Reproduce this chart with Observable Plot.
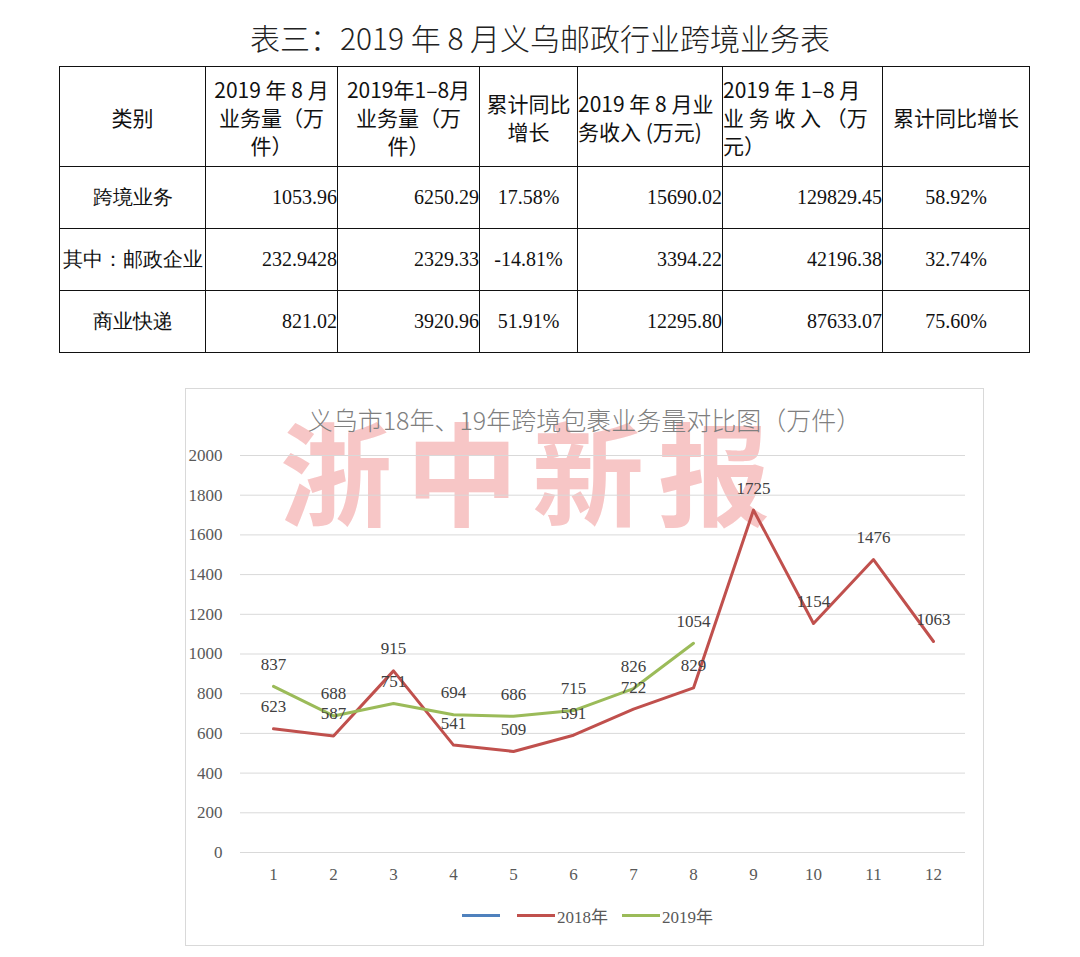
<!DOCTYPE html>
<html><head><meta charset="utf-8">
<script src="https://cdn.jsdelivr.net/npm/d3@7"></script>
<script src="https://cdn.jsdelivr.net/npm/@observablehq/plot@0.6"></script>
<style>
html,body{margin:0;padding:0;background:#fff;width:1080px;height:957px;overflow:hidden;position:relative;}
#title{position:absolute;left:0;width:1080px;top:17px;text-align:center;font-family:"Noto Sans CJK SC",sans-serif;font-size:30px;font-weight:300;color:#222;line-height:40px;}
#tbl{position:absolute;left:59px;top:66px;border-collapse:collapse;table-layout:fixed;width:970px;}
#tbl td{border:1px solid #111;padding:0;font-size:20px;color:#111;}
#tbl tr.h td{height:99px;font-family:"Noto Sans CJK SC",sans-serif;line-height:28px;font-size:21px;}
#tbl tr.d td{height:61px;font-family:"Liberation Serif",serif;}
#tbl td.cat{font-family:"Noto Sans CJK SC",sans-serif;text-align:center;}
#box{position:absolute;left:185px;top:388px;width:797px;height:556px;border:1px solid #d9d9d9;}
#wm{position:absolute;left:280px;top:413px;font-family:"Noto Sans CJK SC",sans-serif;font-weight:700;font-size:112px;line-height:1;color:#f7c6c6;letter-spacing:14px;white-space:nowrap;}
#ctitle{position:absolute;left:185px;width:799px;top:402px;text-align:center;font-family:"Noto Sans CJK SC",sans-serif;font-size:25px;font-weight:300;color:#7f7f7f;line-height:34px;}
#chart{position:absolute;left:185px;top:440px;}
#legend{position:absolute;left:462px;top:904px;display:flex;align-items:center;font-family:"Liberation Serif","Noto Sans CJK SC",serif;font-size:17px;color:#595959;height:22px;}
.sw{display:inline-block;width:38px;height:3px;}
</style></head>
<body>
<div id="title"></div>
<table id="tbl"></table>
<div id="box"></div>
<div id="wm"></div>
<div id="ctitle"></div>
<div id="chart"></div>
<div id="legend"></div>
<script>
// ---- Table data ----
const tableTitle = "表三：2019 年 8 月义乌邮政行业跨境业务表";
const headerLines = [
  ["类别"],
  ["2019 年 8 月","业务量（万","件）"],
  ["2019年1–8月","业务量（万","件）"],
  ["累计同比","增长"],
  ["2019 年 8 月业","务收入 (万元)"],
  ["2019 年 1–8 月","业 务 收 入 （万","元）"],
  ["累计同比增长"]
];
const headerAlign = ["center","center","center","center","left","left","center"];
const colWidths = [146,132,142,98,145,160,147];
const categories = ["跨境业务","其中：邮政企业","商业快递"];
const augVolume = ["1053.96","232.9428","821.02"];
const ytdVolume = ["6250.29","2329.33","3920.96"];
const volGrowth = ["17.58%","-14.81%","51.91%"];
const augRevenue = ["15690.02","3394.22","12295.80"];
const ytdRevenue = ["129829.45","42196.38","87633.07"];
const revGrowth = ["58.92%","32.74%","75.60%"];

// ---- Chart data ----
const chartTitle = "义乌市18年、19年跨境包裹业务量对比图（万件）";
const months = [1,2,3,4,5,6,7,8,9,10,11,12];
const v2018 = [623,587,915,541,509,591,722,829,1725,1154,1476,1063];
const v2019 = [837,688,751,694,686,715,826,1054];
const yTicks = [0,200,400,600,800,1000,1200,1400,1600,1800,2000];
const seriesNames = ["", "2018年", "2019年"];
const seriesColors = ["#4f81bd", "#c0504d", "#9bbb59"];
const watermark = "浙中新报";

// ---- Build table ----
document.getElementById("title").textContent = tableTitle;
const tbl = document.getElementById("tbl");
const cg = document.createElement("colgroup");
colWidths.forEach(w => { const c = document.createElement("col"); c.style.width = w + "px"; cg.appendChild(c); });
tbl.appendChild(cg);
const hr = document.createElement("tr"); hr.className = "h";
headerLines.forEach((lines, i) => {
  const td = document.createElement("td");
  td.style.textAlign = headerAlign[i];
  lines.forEach((l, j) => { if (j) td.appendChild(document.createElement("br")); td.appendChild(document.createTextNode(l)); });
  hr.appendChild(td);
});
tbl.appendChild(hr);
const aligns = ["right","right","center","right","right","center"];
categories.forEach((cat, r) => {
  const tr = document.createElement("tr"); tr.className = "d";
  const c0 = document.createElement("td"); c0.className = "cat"; c0.textContent = cat; tr.appendChild(c0);
  [augVolume, ytdVolume, volGrowth, augRevenue, ytdRevenue, revGrowth].forEach((col, k) => {
    const td = document.createElement("td"); td.textContent = col[r]; td.style.textAlign = aligns[k]; tr.appendChild(td);
  });
  tbl.appendChild(tr);
});

// ---- Chart ----
document.getElementById("ctitle").textContent = chartTitle;
document.getElementById("wm").textContent = watermark;
const d2018 = months.map((m, i) => ({month: m, value: v2018[i]}));
const d2019 = v2019.map((v, i) => ({month: months[i], value: v}));
const fmt = d => String(d);

const plot = Plot.plot({
  width: 800, height: 452,
  marginTop: 15, marginLeft: 55, marginRight: 20, marginBottom: 40,
  x: {type: "point", domain: months, padding: 0.5, label: null},
  y: {domain: [0, 2000], label: null},
  style: {fontFamily: "Liberation Serif, serif", fontSize: "17px", color: "#595959", background: "transparent"},
  marks: [
    Plot.ruleY(yTicks, {stroke: "#d9d9d9", strokeWidth: 1}),
    Plot.axisY({ticks: yTicks, tickSize: 0, tickPadding: 18, tickFormat: fmt, label: null, fontSize: 17}),
    Plot.axisX({tickSize: 0, tickPadding: 15, tickFormat: fmt, label: null, fontSize: 17}),
    Plot.line(d2018, {x: "month", y: "value", stroke: seriesColors[1], strokeWidth: 3}),
    Plot.line(d2019, {x: "month", y: "value", stroke: seriesColors[2], strokeWidth: 3}),
    Plot.text(d2018, {x: "month", y: "value", text: d => fmt(d.value), dy: -22, fill: "#404040", fontSize: 17}),
    Plot.text(d2019, {x: "month", y: "value", text: d => fmt(d.value), dy: -22, fill: "#404040", fontSize: 17})
  ]
});
document.getElementById("chart").appendChild(plot);

// ---- Legend ----
const lg = document.getElementById("legend");
seriesNames.forEach((name, i) => {
  const sw = document.createElement("span"); sw.className = "sw"; sw.style.background = seriesColors[i];
  sw.style.marginLeft = i === 0 ? "0px" : (i === 1 ? "17px" : "14px");
  lg.appendChild(sw);
  if (name) { const t = document.createElement("span"); t.textContent = name; t.style.marginLeft = "2px"; lg.appendChild(t); }
});
</script>
</body></html>
